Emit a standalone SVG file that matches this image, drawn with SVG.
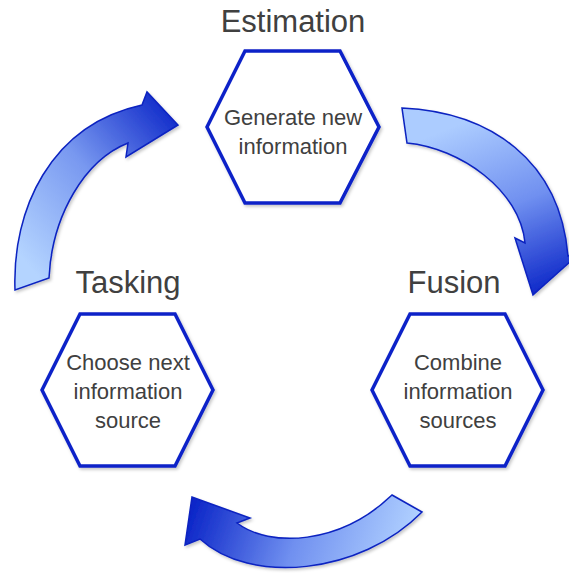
<svg xmlns="http://www.w3.org/2000/svg" width="569" height="575" viewBox="0 0 569 575">
  <defs>
    <filter id="shadow" x="-10%" y="-10%" width="130%" height="130%">
      <feDropShadow dx="1.5" dy="2" stdDeviation="1.5" flood-color="#000" flood-opacity="0.22"/>
    </filter>
    <linearGradient id="gradLeft" gradientUnits="userSpaceOnUse" x1="15" y1="250" x2="178" y2="110">
      <stop offset="0" stop-color="#b4d4ff"/>
      <stop offset="0.5" stop-color="#7898f0"/>
      <stop offset="1" stop-color="#0c26c8"/>
    </linearGradient>
    <linearGradient id="gradRight" gradientUnits="userSpaceOnUse" x1="470" y1="120" x2="540" y2="295">
      <stop offset="0" stop-color="#acccff"/>
      <stop offset="0.5" stop-color="#7090f0"/>
      <stop offset="1" stop-color="#0c26c8"/>
    </linearGradient>
    <linearGradient id="gradBottom" gradientUnits="userSpaceOnUse" x1="195" y1="500" x2="400" y2="570">
      <stop offset="0" stop-color="#0c26c8"/>
      <stop offset="0.5" stop-color="#7090f0"/>
      <stop offset="1" stop-color="#b0d0ff"/>
    </linearGradient>
  </defs>
  <style>
    .hex { fill: #ffffff; stroke: #0a22c8; stroke-width: 3.5; stroke-linejoin: miter; }
    .title { font-family: "Liberation Sans", Arial, sans-serif; font-size: 31px; fill: #404040; text-anchor: middle; }
    .label { font-family: "Liberation Sans", Arial, sans-serif; font-size: 22px; fill: #404040; text-anchor: middle; }
    .arrow { stroke: #0a22c0; stroke-width: 1.5; stroke-linejoin: miter; }
  </style>

  <!-- curved cycle arrows -->
  <g id="connectors" filter="url(#shadow)">
    <path class="arrow" fill="url(#gradLeft)" d="M15,290 C12,210 50,125 142,105 L147,92 L178,125 L126,157 L128,143 C85,160 52,215 49,278 Z"/>
    <path class="arrow" fill="url(#gradRight)" d="M402,108 C490,112 560,160 568,256 L582,251 L533,295 L515,238 L525,243 C520,190 460,148 407,143 Z"/>
    <path class="arrow" fill="url(#gradBottom)" d="M392,495 L422,512 C360,575 250,585 200,539 L185,545 L192,497 L250,518 L237,523 C270,548 340,545 392,495 Z"/>
  </g>

  <!-- Estimation -->
  <g id="estimation">
    <text class="title" x="293" y="32">Estimation</text>
    <polygon class="hex" filter="url(#shadow)" points="245,51 340,51 379,127 340,203 245,203 207,127"/>
    <text class="label" x="293" y="125">Generate new</text>
    <text class="label" x="293" y="154">information</text>
  </g>

  <!-- Tasking -->
  <g id="tasking">
    <text class="title" x="128" y="293">Tasking</text>
    <polygon class="hex" filter="url(#shadow)" points="80,314 175,314 213,390 175,466 80,466 42,390"/>
    <text class="label" x="128" y="370">Choose next</text>
    <text class="label" x="128" y="399">information</text>
    <text class="label" x="128" y="428">source</text>
  </g>

  <!-- Fusion -->
  <g id="fusion">
    <text class="title" x="454" y="293">Fusion</text>
    <polygon class="hex" filter="url(#shadow)" points="410,314 505,314 543,390 505,466 410,466 372,390"/>
    <text class="label" x="458" y="370">Combine</text>
    <text class="label" x="458" y="399">information</text>
    <text class="label" x="458" y="428">sources</text>
  </g>
</svg>
